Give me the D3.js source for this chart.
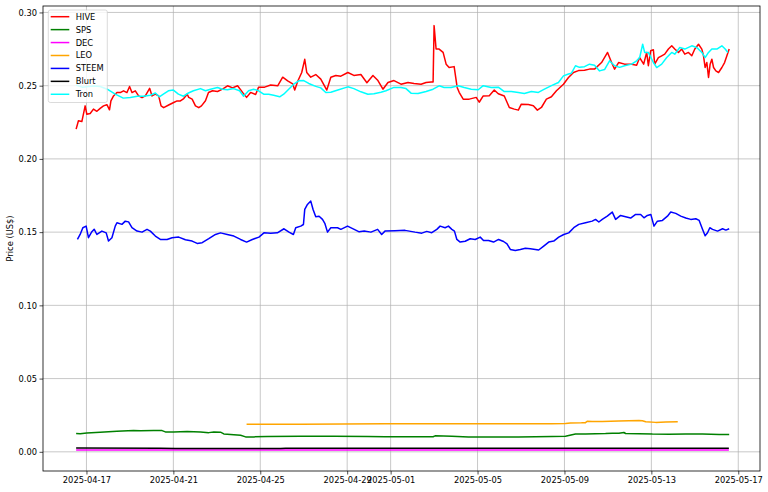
<!DOCTYPE html>
<html>
<head>
<meta charset="utf-8">
<script src="https://cdn.jsdelivr.net/npm/d3@7"></script>
<style>
  body { margin: 0; background: #fff; }
  svg { display: block; font-family: "DejaVu Sans", sans-serif; }
</style>
</head>
<body>
<div id="chart"></div>
<script>
// each series is a list of [days since 2025-04-16 00:00 UTC, price in US$]
const hive = [
  [0.525,.2203],[0.631,.226],[0.788,.2255],[0.940,.2362],[1.018,.2305],[1.171,.231],[1.323,.234],[1.480,.2325],
  [1.632,.2345],[1.785,.2362],[1.941,.237],[2.061,.2335],[2.126,.2396],[2.246,.243],[2.403,.2453],[2.555,.2453],
  [2.708,.2465],[2.864,.2453],[2.984,.2494],[3.095,.2453],[3.248,.2465],[3.400,.243],[3.557,.2418],[3.709,.243],
  [3.908,.2482],[4.018,.243],[4.171,.2442],[4.323,.243],[4.434,.2362],[4.554,.235],[4.784,.2368],[5.015,.2385],
  [5.172,.2396],[5.324,.2396],[5.477,.2412],[5.634,.2442],[5.707,.242],[5.864,.2408],[6.017,.2362],[6.169,.235],
  [6.293,.2362],[6.478,.2397],[6.617,.2453],[6.801,.2465],[7.032,.246],[7.263,.2476],[7.493,.2499],[7.724,.2485],
  [7.955,.2499],[8.186,.2454],[8.370,.242],[8.555,.2454],[8.786,.244],[8.924,.249],[9.201,.249],[9.478,.2505],
  [9.801,.2499],[10.032,.2558],[10.262,.2533],[10.493,.2512],[10.586,.247],[10.724,.253],[10.908,.259],[11.047,.268],
  [11.139,.259],[11.324,.2558],[11.554,.2576],[11.785,.2545],[12.062,.247],[12.247,.2558],[12.477,.257],[12.708,.2565],
  [13.031,.259],[13.308,.257],[13.631,.2576],[13.908,.252],[14.185,.257],[14.416,.2535],[14.646,.2476],[14.877,.2522],
  [15.154,.2535],[15.477,.251],[15.800,.2522],[16.077,.2515],[16.400,.251],[16.631,.2522],[16.862,.2525],[16.954,.2525],
  [17.000,.291],[17.092,.275],[17.231,.275],[17.415,.2727],[17.554,.2647],[17.692,.2624],[17.923,.263],[18.062,.2488],
  [18.154,.2455],[18.339,.2408],[18.616,.2408],[18.939,.242],[19.077,.2387],[19.262,.243],[19.539,.2432],[19.769,.247],
  [19.954,.2445],[20.231,.243],[20.462,.2351],[20.692,.234],[20.877,.2333],[21.015,.2374],[21.338,.2372],[21.569,.2363],
  [21.754,.2333],[21.939,.2351],[22.169,.2408],[22.400,.2424],[22.631,.2465],[22.954,.251],[23.185,.2556],[23.415,.259],
  [23.646,.2603],[23.923,.2605],[24.153,.2613],[24.384,.2613],[24.707,.2658],[24.984,.2727],[25.169,.2658],[25.307,.2613],
  [25.492,.2658],[25.769,.2647],[26.092,.2647],[26.322,.264],[26.461,.2692],[26.646,.2647],[26.784,.2727],[26.862,.2636],
  [26.968,.2738],[27.093,.2745],[27.153,.2647],[27.324,.2692],[27.476,.2704],[27.615,.2715],[27.785,.275],[27.938,.2772],
  [28.076,.275],[28.247,.2727],[28.399,.275],[28.538,.2715],[28.708,.2727],[28.861,.2704],[28.999,.275],[29.170,.2783],
  [29.322,.275],[29.400,.2704],[29.474,.2624],[29.553,.2658],[29.631,.2556],[29.705,.2647],[29.784,.2681],[29.863,.2624],
  [29.969,.2601],[30.093,.259],[30.245,.2624],[30.370,.2658],[30.476,.2704],[30.582,.275]
];
const sps = [
  [0.525,.0125],[0.709,.0123],[1.018,.0128],[1.632,.0134],[2.403,.014],[3.169,.0146],[3.478,.0144],[4.092,.0145],
  [4.480,.0145],[4.632,.0136],[5.015,.0136],[5.634,.0139],[6.247,.0136],[6.630,.0131],[6.861,.0135],[7.170,.0134],
  [7.322,.0122],[7.784,.0117],[8.093,.0113],[8.324,.0102],[8.707,.0102],[9.325,.0105],[10.862,.0107],[12.385,.0107],
  [13.940,.0105],[14.739,.0103],[16.262,.0103],[16.954,.0103],[17.046,.0109],[17.817,.0107],[18.583,.0102],[19.354,.0101],
  [20.877,.0101],[22.431,.0105],[23.045,.0107],[23.507,.0122],[23.969,.0122],[24.430,.0124],[24.891,.0125],[25.201,.0127],
  [25.506,.0127],[25.736,.0132],[25.815,.0125],[26.430,.0124],[27.047,.0121],[27.813,.012],[28.584,.0122],[29.354,.0122],
  [30.121,.0118],[30.582,.0118]
];
const dec = [
  [0.525,.0013],[10.0,.0013],[20.0,.0012],[30.567,.0012]
];
const leo = [
  [8.370,.0189],[10.862,.0189],[14.739,.0191],[18.708,.0191],[22.400,.0192],[23.045,.0193],[23.277,.0197],[23.784,.0198],
  [23.969,.0199],[24.046,.0209],[24.278,.0207],[24.739,.0207],[25.506,.0211],[26.430,.0213],[26.587,.0212],[26.739,.0205],
  [27.200,.0201],[27.661,.0204],[28.215,.0205]
];
const steem = [
  [0.585,.145],[0.709,.1484],[0.834,.153],[0.986,.1541],[1.092,.1462],[1.249,.1503],[1.355,.152],[1.480,.1484],
  [1.711,.1507],[1.909,.1495],[2.015,.1439],[2.172,.1462],[2.325,.1541],[2.403,.1564],[2.634,.1553],[2.786,.1575],
  [2.938,.157],[3.095,.153],[3.326,.1507],[3.557,.15],[3.788,.1519],[3.940,.1507],[4.171,.1473],[4.401,.145],
  [4.710,.145],[4.941,.1462],[5.246,.1466],[5.555,.1448],[5.864,.1439],[6.095,.1423],[6.326,.1428],[6.630,.1455],
  [6.940,.1484],[7.170,.1495],[7.480,.1484],[7.784,.1473],[8.093,.145],[8.370,.1432],[8.633,.145],[8.938,.1466],
  [9.169,.1495],[9.478,.1493],[9.787,.1495],[10.092,.1523],[10.322,.15],[10.525,.1484],[10.632,.153],[10.862,.1541],
  [10.987,.1552],[11.047,.1655],[11.172,.1689],[11.324,.1712],[11.430,.1655],[11.554,.1605],[11.707,.1608],[11.864,.1587],
  [11.970,.156],[12.094,.15],[12.247,.153],[12.556,.153],[12.708,.1519],[13.017,.1541],[13.322,.1519],[13.553,.1502],
  [13.783,.1507],[14.093,.15],[14.402,.1519],[14.587,.1484],[14.739,.1507],[15.200,.151],[15.662,.1512],[16.123,.15],
  [16.433,.1493],[16.663,.1505],[16.894,.1496],[17.125,.1519],[17.277,.1541],[17.508,.153],[17.660,.1541],[17.817,.1519],
  [17.937,.1507],[18.048,.145],[18.200,.1432],[18.431,.1438],[18.662,.1455],[18.892,.145],[19.123,.1466],[19.275,.1443],
  [19.506,.1443],[19.737,.1432],[19.968,.145],[20.199,.1436],[20.356,.142],[20.508,.1382],[20.738,.1375],[20.969,.1382],
  [21.200,.139],[21.431,.1386],[21.662,.1382],[21.814,.1378],[22.045,.1405],[22.275,.1432],[22.506,.1439],[22.737,.1466],
  [22.968,.1484],[23.198,.1495],[23.429,.153],[23.660,.1553],[23.969,.1564],[24.278,.1575],[24.430,.1587],[24.583,.1569],
  [24.739,.1587],[24.970,.1609],[25.201,.1637],[25.354,.1587],[25.584,.1614],[25.815,.1605],[26.046,.1596],[26.276,.1621],
  [26.507,.1621],[26.660,.1598],[26.817,.1614],[26.975,.1621],[27.121,.1541],[27.278,.1575],[27.509,.158],[27.740,.1609],
  [27.892,.1637],[28.122,.1628],[28.353,.1609],[28.584,.1596],[28.815,.1587],[29.045,.1591],[29.201,.158],[29.354,.152],
  [29.474,.1475],[29.585,.1496],[29.691,.153],[29.816,.1519],[30.047,.1507],[30.277,.1523],[30.430,.1514],[30.582,.1523]
];
const blurt = [
  [0.525,.0026],[4.401,.0025],[5.094,.0023],[9.939,.0023],[10.170,.0025],[20.092,.0025],[29.354,.0024],[30.567,.0024]
];
const tron = [
  [0.525,.2505],[0.802,.249],[1.078,.2495],[1.402,.2498],[1.632,.2494],[1.955,.2476],[2.325,.2442],[2.694,.2415],
  [3.017,.242],[3.340,.2428],[3.617,.2428],[3.940,.2435],[4.171,.245],[4.355,.2424],[4.540,.2442],[4.771,.2465],
  [5.001,.247],[5.232,.2442],[5.463,.2428],[5.693,.245],[5.924,.2465],[6.247,.248],[6.478,.2465],[6.709,.2476],
  [7.032,.2488],[7.263,.2476],[7.493,.2472],[7.770,.248],[8.047,.2465],[8.232,.2428],[8.462,.2465],[8.693,.2476],
  [8.924,.2465],[9.155,.2442],[9.386,.2442],[9.616,.2435],[9.893,.2424],[10.078,.2442],[10.309,.2476],[10.539,.251],
  [10.770,.2533],[11.001,.2535],[11.231,.2515],[11.554,.2495],[11.785,.2485],[12.016,.2453],[12.247,.2455],[12.570,.247],
  [13.031,.2492],[13.308,.248],[13.631,.2458],[13.954,.2442],[14.231,.2445],[14.554,.2455],[14.785,.2465],[15.154,.2488],
  [15.477,.2488],[15.708,.248],[15.939,.2449],[16.262,.2447],[16.631,.246],[16.954,.2476],[17.231,.2499],[17.462,.2488],
  [17.785,.2488],[18.108,.25],[18.385,.2488],[18.708,.2476],[19.031,.2472],[19.262,.25],[19.631,.2488],[19.954,.249],
  [20.231,.246],[20.554,.246],[20.877,.2454],[21.154,.2447],[21.477,.246],[21.800,.2454],[22.077,.2476],[22.400,.25],
  [22.723,.2522],[22.954,.2567],[23.185,.258],[23.323,.2585],[23.508,.2636],[23.692,.2625],[23.923,.263],[24.153,.2647],
  [24.384,.264],[24.615,.2601],[24.846,.261],[25.076,.267],[25.307,.2636],[25.538,.2625],[25.769,.2636],[26.092,.2647],
  [26.322,.267],[26.461,.2692],[26.600,.2783],[26.692,.2727],[26.862,.2727],[27.093,.2658],[27.245,.2624],[27.476,.2647],
  [27.707,.2692],[27.938,.2727],[28.076,.2715],[28.307,.2761],[28.538,.275],[28.861,.2772],[29.092,.2761],[29.322,.2727],
  [29.474,.2692],[29.631,.2727],[29.784,.275],[30.015,.275],[30.245,.2772],[30.398,.275],[30.522,.2727]
];

const seriesNames = ["HIVE", "SPS", "DEC", "LEO", "STEEM", "Blurt", "Tron"];
const seriesColors = ["red", "green", "magenta", "orange", "blue", "black", "cyan"];
const seriesData = [hive, sps, dec, leo, steem, blurt, tron];

const xTickLabels = ["2025-04-17", "2025-04-21", "2025-04-25", "2025-04-29", "2025-05-01",
                     "2025-05-05", "2025-05-09", "2025-05-13", "2025-05-17"];
const yTicks = [0.00, 0.05, 0.10, 0.15, 0.20, 0.25, 0.30];

// convert day offset into a real date
const t0 = Date.UTC(2025, 3, 16);
const toDate = d => new Date(t0 + d * 86400000);

const W = 768, H = 492;
const margin = { top: 6, right: 8, bottom: 21, left: 43 };
const width = W - margin.left - margin.right;
const height = H - margin.top - margin.bottom;
const fs = 8.3;

const svg = d3.select("#chart").append("svg")
  .attr("width", W)
  .attr("height", H);

const g = svg.append("g")
  .attr("transform", `translate(${margin.left},${margin.top})`);

// matplotlib-like limits: 5% padding around the data
const x = d3.scaleUtc()
  .domain([toDate(-1), toDate(32)])
  .range([0, width]);

const y = d3.scaleLinear()
  .domain([-0.0131, 0.3044])
  .range([height, 0]);

const xTicks = xTickLabels.map(s => new Date(s + "T00:00:00Z"));

// grid
g.append("g").selectAll("line")
  .data(xTicks).enter().append("line")
  .attr("x1", d => x(d)).attr("x2", d => x(d))
  .attr("y1", 0).attr("y2", height)
  .attr("stroke", "#b0b0b0").attr("stroke-width", 0.7);

g.append("g").selectAll("line")
  .data(yTicks).enter().append("line")
  .attr("x1", 0).attr("x2", width)
  .attr("y1", d => y(d)).attr("y2", d => y(d))
  .attr("stroke", "#b0b0b0").attr("stroke-width", 0.7);

// lines
const line = d3.line()
  .x(d => x(toDate(d[0])))
  .y(d => y(d[1]));

g.append("g").selectAll("path")
  .data(seriesData).enter().append("path")
  .attr("d", d => line(d))
  .attr("fill", "none")
  .attr("stroke", (d, i) => seriesColors[i])
  .attr("stroke-width", 1.5)
  .attr("stroke-linejoin", "round");

// axes
const xAxis = g.append("g")
  .attr("transform", `translate(0,${height})`)
  .call(d3.axisBottom(x).tickValues(xTicks).tickFormat(d3.utcFormat("%Y-%m-%d")).tickSize(3.5).tickPadding(2.5));

const yAxis = g.append("g")
  .call(d3.axisLeft(y).tickValues(yTicks).tickFormat(d3.format(".2f")).tickSize(3.5).tickPadding(2.5));

[xAxis, yAxis].forEach(a => {
  a.select(".domain").remove();
  a.selectAll("text").attr("font-size", fs).attr("fill", "#000").attr("font-family", "DejaVu Sans");
  a.selectAll(".tick line").attr("stroke", "#000").attr("stroke-width", 0.7);
});

// frame
g.append("rect")
  .attr("width", width).attr("height", height)
  .attr("fill", "none").attr("stroke", "#000").attr("stroke-width", 0.8);

// y label
svg.append("text")
  .attr("transform", `translate(10,${margin.top + height / 2}) rotate(-90)`)
  .attr("text-anchor", "middle")
  .attr("dominant-baseline", "central")
  .attr("font-size", fs)
  .text("Price (US$)");

// legend
const lg = g.append("g").attr("transform", "translate(5.3,4)");
lg.append("rect")
  .attr("width", 59).attr("height", 92.5)
  .attr("rx", 2)
  .attr("fill", "#fff").attr("fill-opacity", 0.8)
  .attr("stroke", "#cccccc").attr("stroke-width", 0.7);

const item = lg.selectAll(".item")
  .data(seriesNames).enter().append("g")
  .attr("transform", (d, i) => `translate(0,${6.7 + i * 12.93})`);

item.append("line")
  .attr("x1", 2.4).attr("x2", 21)
  .attr("stroke", (d, i) => seriesColors[i])
  .attr("stroke-width", 1.5);

item.append("text")
  .attr("x", 27.4)
  .attr("dominant-baseline", "central")
  .attr("font-size", fs)
  .text(d => d);
</script>
</body>
</html>
